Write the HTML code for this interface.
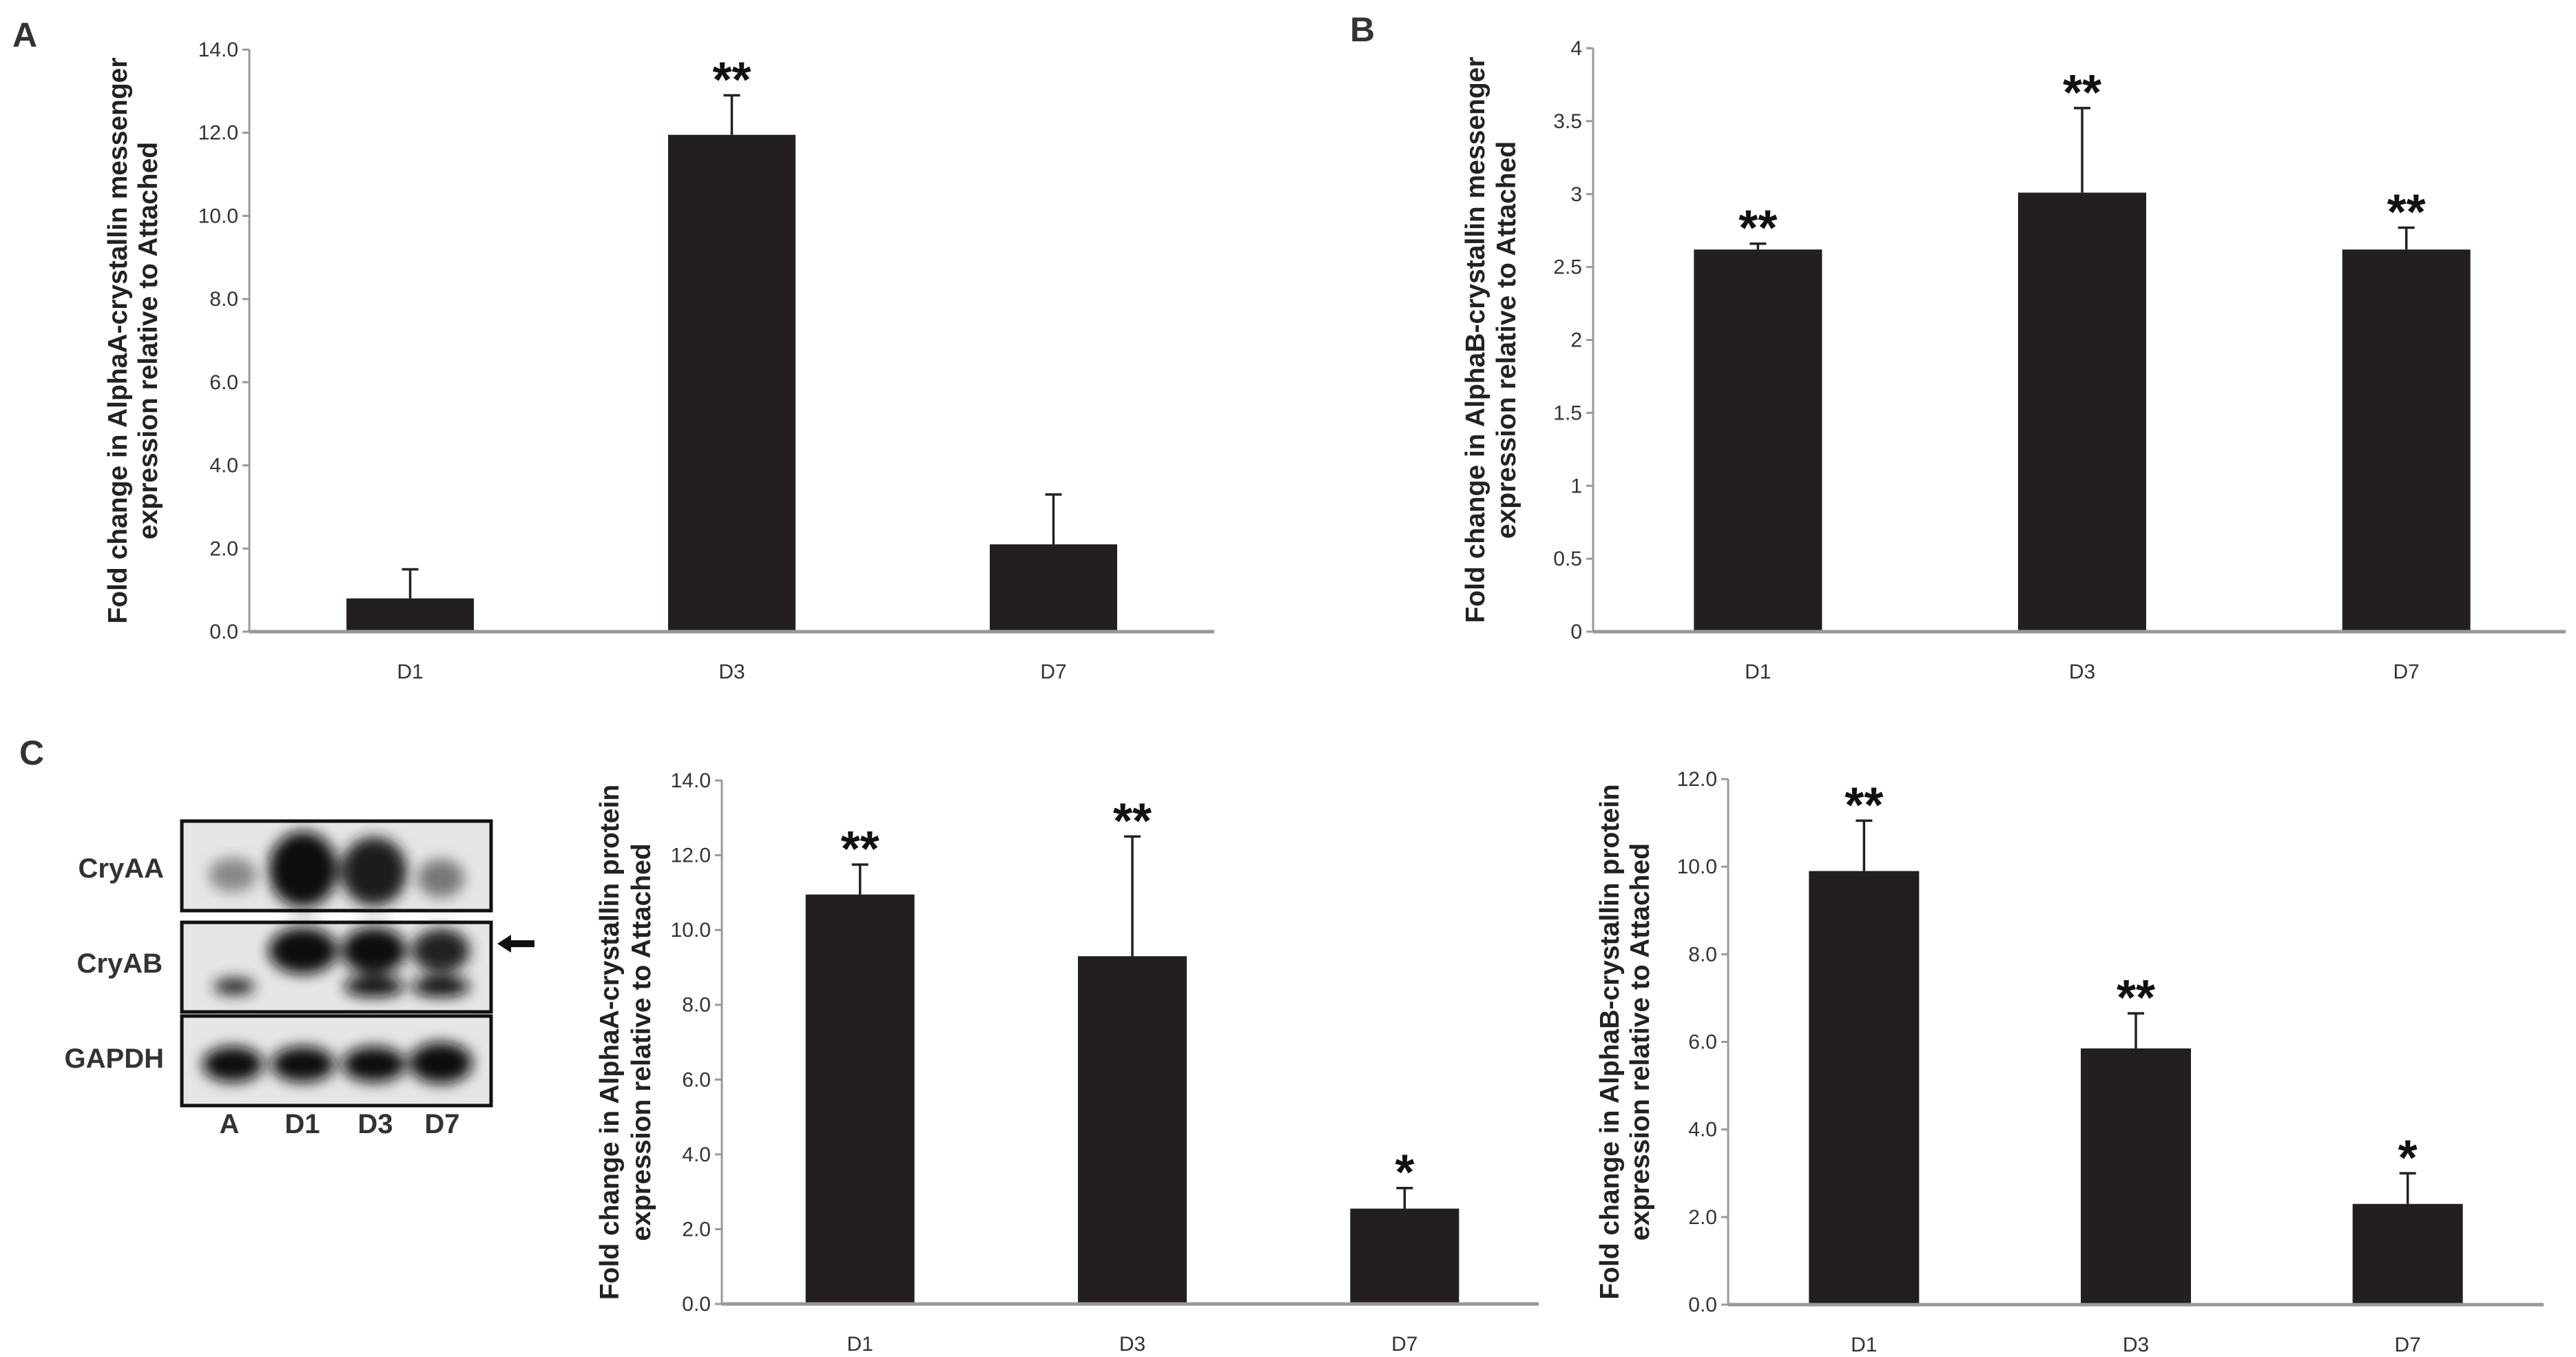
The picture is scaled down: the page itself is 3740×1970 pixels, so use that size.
<!DOCTYPE html>
<html><head><meta charset="utf-8"><style>
html,body{margin:0;padding:0;background:#fff;}
svg{display:block;font-family:"Liberation Sans",sans-serif;}
.tick{font-family:"Liberation Sans Narrow","Liberation Sans",sans-serif;font-size:30px;fill:#333;}
.ttl{font-weight:bold;font-size:39px;fill:#222;}
.plab{font-weight:bold;font-size:50px;fill:#333;}
.star{font-weight:bold;font-size:72px;fill:#111;}
.wb{font-weight:bold;font-size:40px;fill:#333;}
</style></head><body>
<svg id="fig" width="3740" height="1970" viewBox="0 0 3740 1970" xmlns="http://www.w3.org/2000/svg">
<defs>
<filter id="blur" x="-50%" y="-50%" width="200%" height="200%"><feGaussianBlur stdDeviation="10"/></filter>
</defs>
<text class="plab" x="18" y="68">A</text>
<text class="plab" x="1960" y="60">B</text>
<text class="plab" x="28" y="1110">C</text>

<g id="wb">
  <rect x="264" y="1192" width="449" height="130" fill="#e6e6e6" stroke="#111" stroke-width="5"/>
  <rect x="264" y="1339" width="449" height="130" fill="#e6e6e6" stroke="#111" stroke-width="5"/>
  <rect x="264" y="1475" width="449" height="130" fill="#e6e6e6" stroke="#111" stroke-width="5"/>
  <g filter="url(#blur)">
    <ellipse cx="338" cy="1270" rx="35" ry="25" fill="#888"/>
    <ellipse cx="440" cy="1262" rx="50" ry="55" fill="#111"/>
    <ellipse cx="543" cy="1265" rx="48" ry="50" fill="#1a1a1a"/>
    <ellipse cx="640" cy="1275" rx="34" ry="28" fill="#777"/>
    <ellipse cx="340" cy="1432" rx="30" ry="12" fill="#222"/>
    <ellipse cx="440" cy="1380" rx="50" ry="34" fill="#111"/>
    <ellipse cx="543" cy="1380" rx="47" ry="34" fill="#111"/>
    <ellipse cx="543" cy="1432" rx="44" ry="15" fill="#111"/>
    <ellipse cx="640" cy="1380" rx="42" ry="32" fill="#222"/>
    <ellipse cx="640" cy="1432" rx="42" ry="15" fill="#111"/>
    <ellipse cx="338" cy="1545" rx="44" ry="26" fill="#111"/>
    <ellipse cx="440" cy="1545" rx="46" ry="26" fill="#111"/>
    <ellipse cx="543" cy="1545" rx="46" ry="26" fill="#111"/>
    <ellipse cx="640" cy="1543" rx="46" ry="30" fill="#111"/>
  </g>
  <text class="wb" x="238" y="1274" text-anchor="end">CryAA</text>
  <text class="wb" x="236" y="1412" text-anchor="end">CryAB</text>
  <text class="wb" x="238" y="1550" text-anchor="end">GAPDH</text>
  <text class="wb" x="333" y="1645" text-anchor="middle">A</text>
  <text class="wb" x="439" y="1645" text-anchor="middle">D1</text>
  <text class="wb" x="545" y="1645" text-anchor="middle">D3</text>
  <text class="wb" x="642" y="1645" text-anchor="middle">D7</text>
  <path d="M722 1370 L742 1357 L742 1365 L776 1365 L776 1375 L742 1375 L742 1383 Z" fill="#111"/>
</g>
</svg>
<script>
const categories = ["D1","D3","D7"];
const aValues = [0.8, 11.95, 2.1];
const aErrors = [0.7, 0.95, 1.2];
const aStars = ["", "**", ""];
const aTicks = ["0.0","2.0","4.0","6.0","8.0","10.0","12.0","14.0"];
const bValues = [2.62, 3.01, 2.62];
const bErrors = [0.04, 0.58, 0.15];
const bStars = ["**","**","**"];
const bTicks = ["0","0.5","1","1.5","2","2.5","3","3.5","4"];
const c1Values = [10.95, 9.3, 2.55];
const c1Errors = [0.8, 3.2, 0.55];
const c1Stars = ["**","**","*"];
const c1Ticks = ["0.0","2.0","4.0","6.0","8.0","10.0","12.0","14.0"];
const c2Values = [9.9, 5.85, 2.3];
const c2Errors = [1.15, 0.8, 0.7];
const c2Stars = ["**","**","*"];
const c2Ticks = ["0.0","2.0","4.0","6.0","8.0","10.0","12.0"];

const NS = "http://www.w3.org/2000/svg";
const svg = document.getElementById("fig");
function mk(tag, attrs, parent){ const e=document.createElementNS(NS,tag); for(const k in attrs) e.setAttribute(k,attrs[k]); (parent||svg).appendChild(e); return e; }

function chart(cfg, name, values, errors, stars, ticks){
  const g = mk("g",{});
  
  
  const max = parseFloat(ticks[ticks.length-1]);
  const y = v => cfg.y0 - (v/max)*(cfg.y0-cfg.yTop);
  const slot = (cfg.xR-cfg.x0)/categories.length;
  const xc = i => cfg.x0 + slot*(i+0.5) + cfg.shift;
  ticks.forEach((t)=>{
    const v=parseFloat(t);
    const tk = mk("line",{x1:cfg.x0-10,x2:cfg.x0,y1:y(v),y2:y(v),stroke:"#999","stroke-width":3},g);
    
    
    const tl = mk("text",{x:cfg.x0-16,y:y(v)+10,"text-anchor":"end",class:"tick"},g);
    tl.textContent=t;
    
    
  });
  const ya = mk("line",{x1:cfg.x0,x2:cfg.x0,y1:cfg.yTop,y2:cfg.y0,stroke:"#999","stroke-width":3},g);
  
  
  values.forEach((v,i)=>{
    const cx = xc(i);
    const b = mk("rect",{x:cx-cfg.bw/2,y:y(v),width:cfg.bw,height:cfg.y0-y(v),fill:"#231f20"},g);
    
    
    const top = y(v+errors[i]);
    const e = mk("path",{d:`M${cx} ${y(v)} L${cx} ${top} M${cx-12} ${top} L${cx+12} ${top}`,stroke:"#222","stroke-width":3.5,fill:"none"},g);
    
    
    if(stars[i]){
      const s = mk("text",{x:cx,y:top+2,"text-anchor":"middle",class:"star"},g);
      s.textContent=stars[i];
      
      
    }
    const xl = mk("text",{x:cx,y:cfg.y0+68,"text-anchor":"middle",class:"tick"},g);
    xl.textContent=categories[i];
    
    
  });
  const xa = mk("line",{x1:cfg.x0,x2:cfg.xR,y1:cfg.y0,y2:cfg.y0,stroke:"#999","stroke-width":5},g);
  
  
  const cy = (cfg.yTop+cfg.y0)/2;
  cfg.title.forEach((line,k)=>{
    const tx = cfg.tx[k];
    const t = mk("text",{x:tx,y:cy,"text-anchor":"middle",class:"ttl",transform:`rotate(-90 ${tx} ${cy})`},g);
    t.textContent=line;
    
    
  });
}
chart({x0:362,xR:1763,yTop:72,y0:917,bw:185,shift:0,tx:[184,228],
  title:["Fold change in AlphaA-crystallin messenger","expression relative to Attached"]},
  "chart-a-alphaa-mrna", aValues, aErrors, aStars, aTicks);
chart({x0:2313,xR:3725,yTop:70,y0:917,bw:186,shift:4,tx:[2155,2200],
  title:["Fold change in AlphaB-crystallin messenger","expression relative to Attached"]},
  "chart-b-alphab-mrna", bValues, bErrors, bStars, bTicks);
chart({x0:1048,xR:2234,yTop:1133,y0:1893,bw:158,shift:3,tx:[898,944],
  title:["Fold change in AlphaA-crystallin protein","expression relative to Attached"]},
  "chart-c1-alphaa-protein", c1Values, c1Errors, c1Stars, c1Ticks);
chart({x0:2509,xR:3693,yTop:1131,y0:1894,bw:160,shift:0,tx:[2350,2394],
  title:["Fold change in AlphaB-crystallin protein","expression relative to Attached"]},
  "chart-c2-alphab-protein", c2Values, c2Errors, c2Stars, c2Ticks);
</script>
</body></html>
